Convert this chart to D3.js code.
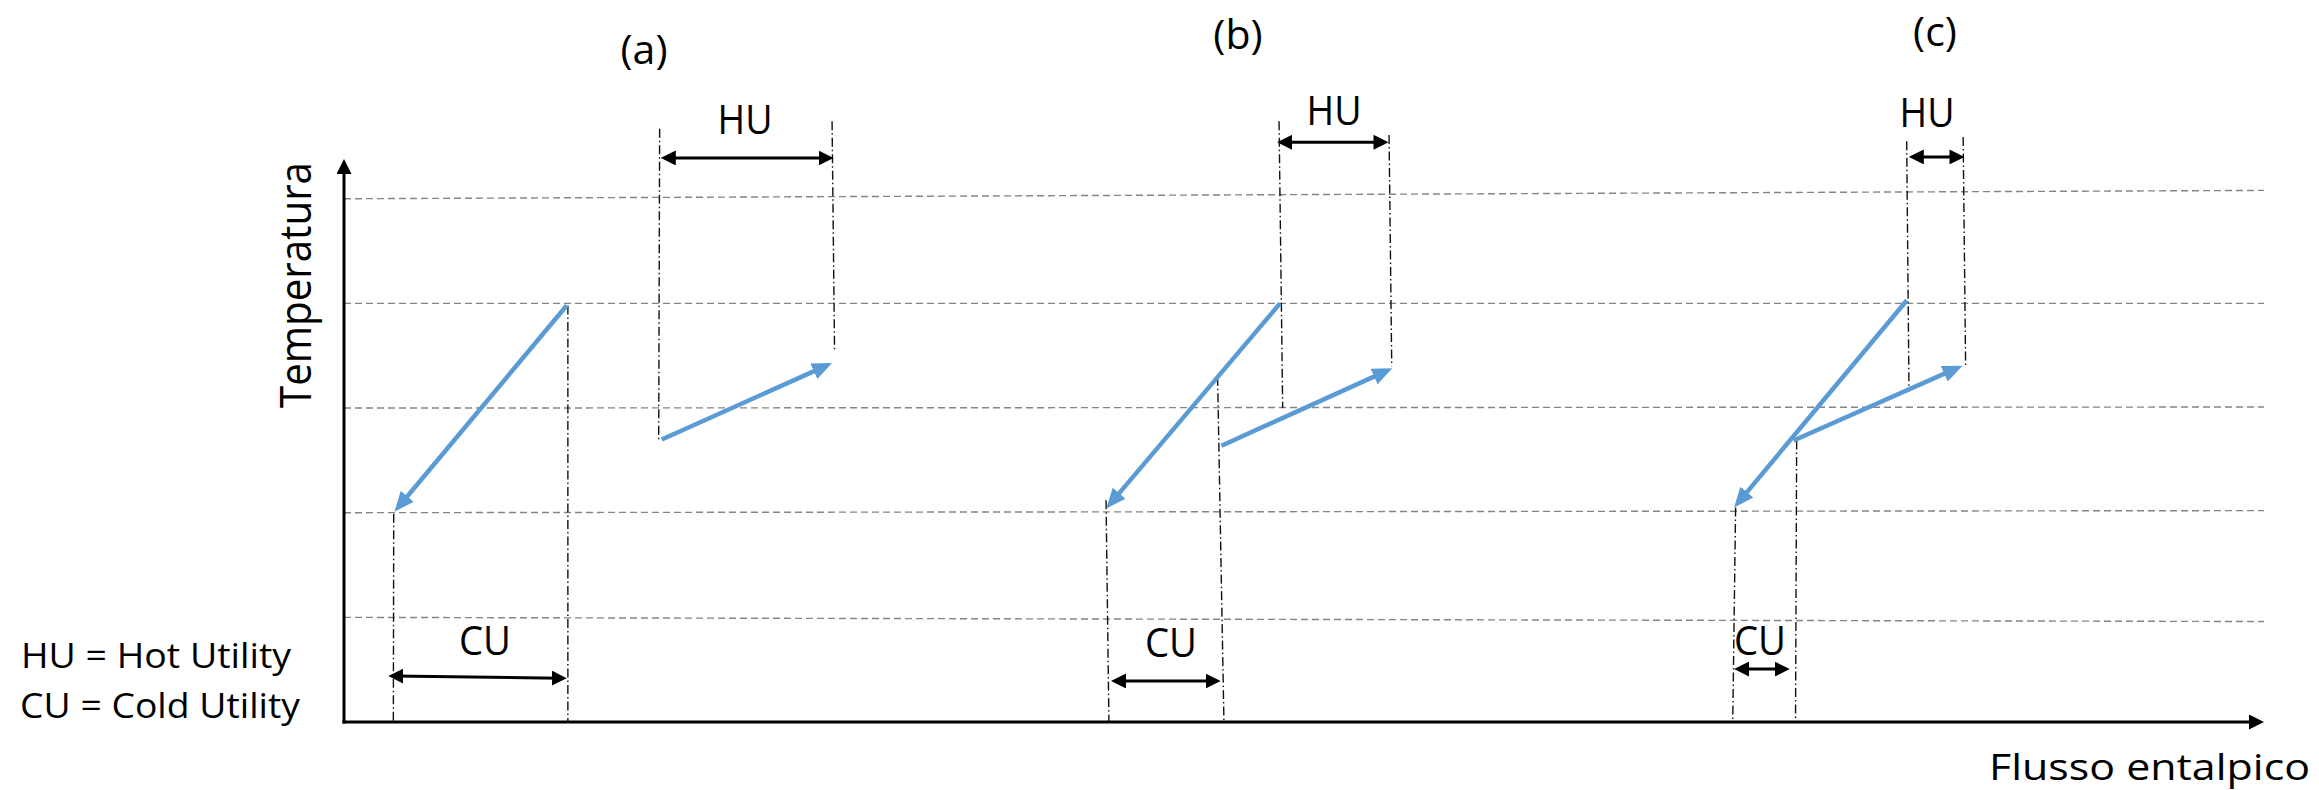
<!DOCTYPE html>
<html><head><meta charset="utf-8">
<script src="https://cdn.jsdelivr.net/npm/d3@7"></script>
<style>html,body{margin:0;padding:0;background:#fff;} svg{display:block;}</style>
</head><body>
<svg id="chart" width="2319" height="790"></svg>
<script>
// ---------- data (enthalpy H in arbitrary units 0..100, temperature T in arbitrary units) ----------
const panels = ["(a)", "(b)", "(c)"];
const hotStart  = [[11.6, 3.98], [48.75, 4.00], [81.4, 4.03]];
const hotEnd    = [[2.63, 2.01], [39.7, 2.04], [72.4, 2.05]];
const coldStart = [[16.55, 2.70], [45.7, 2.64], [75.5, 2.69]];
const coldEnd   = [[25.42, 3.43], [54.6, 3.38], [84.3, 3.405]];
// HU span: [H from, H to, T level]
const huSpan = [[16.5, 25.5, 5.39], [48.6, 54.4, 5.54], [81.5, 84.4, 5.40]];
// CU span: [H from, H to, T left, T right]
const cuSpan = [[2.31, 11.6, 0.44, 0.418], [39.95, 45.66, 0.392, 0.392], [72.4, 75.3, 0.506, 0.506]];
// vertical guide lines: [H top, T top, H bottom, T bottom]
const guides = [
  [2.59, 1.99, 2.57, 0], [11.66, 3.98, 11.66, 0], [16.44, 5.67, 16.39, 2.70], [25.42, 5.74, 25.55, 3.54],
  [39.69, 2.12, 39.84, 0], [45.5, 3.30, 45.83, 0], [48.7, 5.74, 48.89, 3.0], [54.43, 5.61, 54.57, 3.40],
  [72.48, 2.05, 72.33, 0], [75.66, 2.69, 75.6, 0], [81.39, 5.55, 81.51, 3.16], [84.33, 5.59, 84.46, 3.40]
];
// horizontal reference temperature levels (left end, right end)
const gridLeft  = [1, 2, 3, 4, 5];
const gridRight = [0.96, 2.02, 3.01, 4.0, 5.08];
const huLabel = "HU", cuLabel = "CU";
const legendLines = ["HU = Hot Utility", "CU = Cold Utility"];
const xTitle = "Flusso entalpico", yTitle = "Temperatura";
const hMax = 100, tMax = 5.38;

// ---------- layout ----------
const titlePos = [[644, 64], [1238, 49], [1935, 46]];
const huLabelPos = [[745, 134], [1334, 125], [1927, 127]];
const cuLabelPos = [[485, 655], [1171, 657], [1760, 655]];
const FONT = "'Open Sans', 'DejaVu Sans', sans-serif";
const BLUE = "#5B9BD5";

const svg = d3.select("#chart");
const x = d3.scaleLinear().domain([0, hMax]).range([344, 2264]);
const y = d3.scaleLinear().domain([0, tMax]).range([722, 159]);

const defs = svg.append("defs");
defs.append("marker").attr("id", "blueHead").attr("markerUnits", "userSpaceOnUse")
  .attr("viewBox", "0 0 20 17").attr("markerWidth", 20).attr("markerHeight", 17)
  .attr("refX", 12).attr("refY", 8.5).attr("orient", "auto")
  .append("path").attr("d", "M0,0L20,8.5L0,17Z").attr("fill", BLUE);
defs.append("marker").attr("id", "blackHead").attr("markerUnits", "userSpaceOnUse")
  .attr("viewBox", "0 0 15 15").attr("markerWidth", 15).attr("markerHeight", 15)
  .attr("refX", 9).attr("refY", 7.5).attr("orient", "auto-start-reverse")
  .append("path").attr("d", "M0,0L15,7.5L0,15Z").attr("fill", "#000");

function shorten(x1, y1, x2, y2, s1, s2) {
  const dx = x2 - x1, dy = y2 - y1, L = Math.hypot(dx, dy);
  const ux = dx / L, uy = dy / L;
  return [x1 + ux * s1, y1 + uy * s1, x2 - ux * s2, y2 - uy * s2];
}

// grid lines
svg.append("g").selectAll("line").data(gridLeft).join("line")
  .attr("x1", x(0)).attr("y1", d => y(d))
  .attr("x2", x(hMax)).attr("y2", (d, i) => y(gridRight[i]))
  .attr("stroke", "#858585").attr("stroke-width", 1.4).attr("stroke-dasharray", "7,4");

// guides
svg.append("g").selectAll("line").data(guides).join("line")
  .attr("x1", d => x(d[0])).attr("y1", d => y(d[1]))
  .attr("x2", d => x(d[2])).attr("y2", d => y(d[3]))
  .attr("stroke", "#111").attr("stroke-width", 1.4).attr("stroke-dasharray", "9,3,1.5,3");

// axes
const ax = shorten(x(0), y(0), x(hMax), y(0), 0, 6);
svg.append("line").attr("x1", ax[0] - 1.5).attr("y1", ax[1]).attr("x2", ax[2]).attr("y2", ax[3])
  .attr("stroke", "#000").attr("stroke-width", 3).attr("marker-end", "url(#blackHead)");
const ay = shorten(x(0), y(0), x(0), y(tMax), 0, 6);
svg.append("line").attr("x1", ay[0]).attr("y1", ay[1] + 1.5).attr("x2", ay[2]).attr("y2", ay[3])
  .attr("stroke", "#000").attr("stroke-width", 3).attr("marker-end", "url(#blackHead)");

// streams
function stream(starts, ends) {
  svg.append("g").selectAll("line").data(starts).join("line")
    .each(function (d, i) {
      const p = shorten(x(d[0]), y(d[1]), x(ends[i][0]), y(ends[i][1]), 0, 8);
      d3.select(this).attr("x1", p[0]).attr("y1", p[1]).attr("x2", p[2]).attr("y2", p[3]);
    })
    .attr("stroke", BLUE).attr("stroke-width", 4.5).attr("marker-end", "url(#blueHead)");
}
stream(hotStart, hotEnd);
stream(coldStart, coldEnd);

// HU / CU double arrows
svg.append("g").selectAll("line").data(huSpan).join("line")
  .each(function (d) {
    const p = shorten(x(d[0]), y(d[2]), x(d[1]), y(d[2]), 6, 6);
    d3.select(this).attr("x1", p[0]).attr("y1", p[1]).attr("x2", p[2]).attr("y2", p[3]);
  })
  .attr("stroke", "#000").attr("stroke-width", 3)
  .attr("marker-start", "url(#blackHead)").attr("marker-end", "url(#blackHead)");
svg.append("g").selectAll("line").data(cuSpan).join("line")
  .each(function (d) {
    const p = shorten(x(d[0]), y(d[2]), x(d[1]), y(d[3]), 6, 6);
    d3.select(this).attr("x1", p[0]).attr("y1", p[1]).attr("x2", p[2]).attr("y2", p[3]);
  })
  .attr("stroke", "#000").attr("stroke-width", 3)
  .attr("marker-start", "url(#blackHead)").attr("marker-end", "url(#blackHead)");

// texts
const txt = svg.append("g").attr("font-family", FONT).attr("fill", "#000");
txt.selectAll("text.title").data(panels).join("text").attr("class", "title")
  .attr("x", (d, i) => titlePos[i][0]).attr("y", (d, i) => titlePos[i][1])
  .attr("text-anchor", "middle").attr("font-size", 41).text(d => d);
txt.selectAll("text.hu").data(huLabelPos).join("text").attr("class", "hu")
  .attr("x", d => d[0]).attr("y", d => d[1]).attr("text-anchor", "middle")
  .attr("font-size", 40).attr("textLength", 55).attr("lengthAdjust", "spacingAndGlyphs").text(huLabel);
txt.selectAll("text.cu").data(cuLabelPos).join("text").attr("class", "cu")
  .attr("x", d => d[0]).attr("y", d => d[1]).attr("text-anchor", "middle")
  .attr("font-size", 40).attr("textLength", 52).attr("lengthAdjust", "spacingAndGlyphs").text(cuLabel);

txt.append("text").attr("x", 21).attr("y", 668).attr("font-size", 35)
  .attr("textLength", 270).attr("lengthAdjust", "spacingAndGlyphs").text(legendLines[0]);
txt.append("text").attr("x", 20).attr("y", 718).attr("font-size", 35)
  .attr("textLength", 280).attr("lengthAdjust", "spacingAndGlyphs").text(legendLines[1]);

txt.append("text").attr("x", 1989).attr("y", 780).attr("font-size", 37)
  .attr("textLength", 321).attr("lengthAdjust", "spacingAndGlyphs").text(xTitle);
txt.append("text").attr("transform", "translate(311,408) rotate(-90)").attr("font-size", 44)
  .attr("textLength", 246).attr("lengthAdjust", "spacingAndGlyphs").text(yTitle);
</script>
</body></html>
